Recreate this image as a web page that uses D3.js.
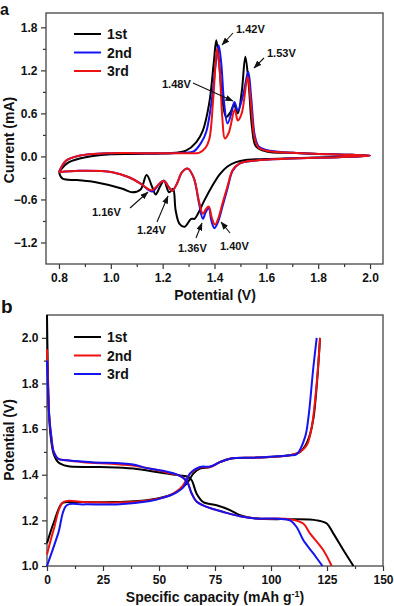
<!DOCTYPE html>
<html>
<head>
<meta charset="utf-8">
<script src="https://cdn.jsdelivr.net/npm/d3@7"></script>
<style>
  html, body { margin: 0; padding: 0; background: #fff; }
  svg text { font-family: "Liberation Sans", Arial, sans-serif; font-weight: bold; fill: #111; }
</style>
</head>
<body>
<div class="box"></div>
<script>
// ---- panel a : cyclic voltammetry, [potential V, current mA] ----
const cvNames = ["1st", "2nd", "3rd"]
const cvColors = ["#000000", "#1414f0", "#ee1111"]

const cv1st = [[0.8,-0.22],[0.83,-0.1],[0.88,-0.03],[1.0,0.03],[1.1,0.035],[1.2,0.04],[1.25,0.05],[1.29,0.08],[1.33,0.2],[1.355,0.36],[1.38,0.75],[1.397,1.3],[1.407,1.62],[1.418,1.3],[1.43,0.8],[1.445,0.55],[1.462,0.62],[1.475,0.72],[1.49,0.6],[1.505,0.9],[1.519,1.39],[1.532,1.0],[1.545,0.4],[1.56,0.14],[1.6,0.07],[1.7,0.05],[1.8,0.035],[1.9,0.025],[2.0,0.01],
  [1.9,-0.005],[1.8,-0.015],[1.7,-0.025],[1.6,-0.035],[1.52,-0.05],[1.483,-0.08],[1.45,-0.14],[1.42,-0.25],[1.39,-0.42],[1.36,-0.62],[1.336,-0.8],[1.323,-0.87],[1.31,-0.87],[1.285,-0.98],[1.265,-0.94],[1.25,-0.75],[1.24,-0.45],[1.225,-0.5],[1.205,-0.34],[1.19,-0.42],[1.173,-0.53],[1.16,-0.43],[1.138,-0.26],[1.115,-0.46],[1.083,-0.5],[1.045,-0.45],[0.942,-0.36],[0.87,-0.33],[0.814,-0.31],[0.8,-0.22]]

const cv2nd = [[0.8,-0.22],[0.827,-0.06],[0.878,0.01],[1.0,0.045],[1.1,0.045],[1.2,0.045],[1.28,0.05],[1.32,0.07],[1.35,0.2],[1.368,0.34],[1.39,0.8],[1.405,1.3],[1.416,1.55],[1.426,1.3],[1.437,0.75],[1.45,0.46],[1.465,0.6],[1.477,0.76],[1.49,0.64],[1.51,0.85],[1.53,1.18],[1.542,0.8],[1.555,0.3],[1.57,0.14],[1.6,0.09],[1.7,0.05],[1.8,0.035],[1.9,0.025],[2.0,0.01],
  [1.88,-0.01],[1.69,-0.03],[1.56,-0.056],[1.496,-0.1],[1.47,-0.2],[1.45,-0.45],[1.432,-0.68],[1.415,-0.9],[1.40,-1.0],[1.388,-0.9],[1.378,-0.72],[1.366,-0.78],[1.355,-0.87],[1.34,-0.65],[1.32,-0.3],[1.297,-0.17],[1.275,-0.22],[1.255,-0.38],[1.237,-0.48],[1.224,-0.43],[1.205,-0.34],[1.19,-0.37],[1.16,-0.49],[1.147,-0.47],[1.115,-0.38],[1.07,-0.29],[1.006,-0.22],[0.878,-0.2],[0.8,-0.22]]

const cv3rd = [[0.8,-0.22],[0.827,-0.06],[0.878,0.01],[1.0,0.045],[1.1,0.045],[1.2,0.045],[1.3,0.045],[1.34,0.05],[1.365,0.12],[1.38,0.24],[1.395,0.8],[1.41,1.5],[1.42,1.2],[1.43,0.55],[1.44,0.25],[1.455,0.33],[1.478,0.65],[1.49,0.5],[1.505,0.6],[1.528,1.11],[1.54,0.75],[1.555,0.25],[1.57,0.12],[1.6,0.08],[1.7,0.05],[1.8,0.035],[1.9,0.025],[2.0,0.01],
  [1.88,-0.01],[1.69,-0.03],[1.56,-0.056],[1.496,-0.1],[1.47,-0.19],[1.45,-0.42],[1.432,-0.64],[1.415,-0.86],[1.402,-0.95],[1.39,-0.86],[1.378,-0.7],[1.366,-0.74],[1.355,-0.8],[1.34,-0.62],[1.32,-0.3],[1.297,-0.17],[1.275,-0.22],[1.255,-0.38],[1.237,-0.48],[1.224,-0.43],[1.205,-0.34],[1.19,-0.37],[1.16,-0.47],[1.147,-0.46],[1.115,-0.38],[1.07,-0.29],[1.006,-0.22],[0.878,-0.2],[0.8,-0.22]]

const cvXTicks = [0.8, 1.0, 1.2, 1.4, 1.6, 1.8, 2.0]
const cvYTicks = [-1.2, -0.6, 0.0, 0.6, 1.2, 1.8]
const cvPeaks = [
  {label: "1.42V", tx: 236, ty: 33, ax: 233, ay: 33, bx: 222, by: 45},
  {label: "1.53V", tx: 267, ty: 57, ax: 264, ay: 58, bx: 254, by: 68},
  {label: "1.48V", tx: 162, ty: 88, ax: 193, ay: 83, bx: 233, by: 101},
  {label: "1.16V", tx: 92, ty: 216, ax: 130, ay: 208, bx: 148, by: 192},
  {label: "1.24V", tx: 137, ty: 234, ax: 157, ay: 222, bx: 168, by: 196},
  {label: "1.36V", tx: 178, ty: 252, ax: 196, ay: 238, bx: 202, by: 223},
  {label: "1.40V", tx: 220, ty: 250, ax: 230, ay: 233, bx: 221, by: 222}
]

// ---- panel b : charge / discharge, [capacity mAh/g, potential V] ----
const gcNames = ["1st", "2nd", "3rd"]
const gcColors = ["#000000", "#ee1111", "#1414f0"]

const gc1stDis = [[0,2.1],[0.3,1.9],[0.8,1.7],[1.5,1.58],[3,1.49],[5,1.455],[9,1.438],[23.7,1.434],[38.5,1.427],[50.4,1.41],[59.4,1.397],[63,1.39],[64.6,1.376],[66.8,1.317],[69.8,1.28],[75.7,1.266],[81.7,1.245],[86.2,1.223],[93.6,1.208],[108.5,1.205],[120.4,1.2],[124.9,1.186],[127.8,1.143],[132.3,1.07],[136.8,1.0]]
const gc1stChg = [[0,1.1],[3,1.19],[6.6,1.274],[9,1.28],[16.2,1.28],[31,1.28],[46,1.29],[56.4,1.317],[62.3,1.36],[65.3,1.405],[68.3,1.427],[72.8,1.434],[77.2,1.455],[81.7,1.47],[93.6,1.475],[108.5,1.485],[113,1.5],[115.5,1.53],[117.5,1.58],[119,1.65],[120.5,1.8],[121.9,2.0]]
const gc2ndDis = [[0,1.95],[0.5,1.78],[1,1.66],[2,1.56],[3,1.5],[5,1.47],[8.8,1.463],[16.2,1.455],[38.5,1.44],[53.4,1.41],[59.4,1.395],[62.5,1.37],[64.5,1.32],[67,1.28],[71.3,1.259],[78.7,1.237],[86.2,1.218],[93.6,1.208],[108.5,1.205],[114.4,1.186],[117.4,1.143],[123.3,1.07],[127.1,1.0]]
const gc2ndChg = [[0,1.05],[3,1.16],[7.3,1.28],[16.2,1.28],[31,1.278],[46,1.288],[52,1.3],[56.4,1.317],[60.5,1.35],[63.8,1.405],[68.3,1.432],[72.8,1.434],[77.2,1.455],[81.7,1.47],[93.6,1.475],[108.5,1.485],[113,1.5],[116,1.53],[118.2,1.61],[120.4,1.8],[121.9,2.0]]
const gc3rdDis = [[0,1.9],[0.5,1.75],[1,1.65],[2,1.56],[3,1.5],[5,1.47],[8.8,1.463],[20,1.455],[38.5,1.445],[44,1.43],[50.4,1.42],[59.4,1.395],[62.5,1.37],[64.5,1.32],[67,1.28],[71.3,1.259],[78.7,1.237],[86.2,1.218],[93.6,1.208],[101,1.208],[108.5,1.2],[111.5,1.17],[114.4,1.114],[118.9,1.055],[123,1.0]]
const gc3rdChg = [[0,1.0],[5,1.143],[8.8,1.266],[16,1.27],[31,1.27],[46,1.285],[52,1.3],[56.4,1.315],[60.9,1.346],[63.8,1.405],[68.3,1.434],[72.8,1.436],[77.2,1.455],[81.7,1.47],[93.6,1.475],[108.5,1.485],[111.5,1.49],[115.2,1.565],[116.7,1.65],[118.9,1.87],[120.4,2.0]]

const gcXTicks = [0, 25, 50, 75, 100, 125, 150]
const gcYTicks = [1.0, 1.2, 1.4, 1.6, 1.8, 2.0]

// ---- drawing ----
const W = 394, H = 606
const svg = d3.select('.box').append('svg').attr('width', W).attr('height', H)

svg.append('defs').append('marker')
   .attr('id', 'arr').attr('viewBox', '0 0 8 6')
   .attr('refX', 7.5).attr('refY', 3)
   .attr('markerWidth', 8).attr('markerHeight', 6)
   .attr('markerUnits', 'userSpaceOnUse')
   .attr('orient', 'auto')
   .append('path').attr('d', 'M0,0 L8,3 L0,6 Z').attr('fill', '#111')

function frame(x, y, xTicks, yTicks, xMinor, yMinor, xFmt, yFmt) {
    const g = svg.append('g')
    const [x0, x1] = x.range(), [y0, y1] = y.range()

    const xAxis = g.append('g').attr('transform', `translate(0,${y0})`)
        .call(d3.axisBottom(x).tickValues(xTicks).tickFormat(xFmt).tickSize(5).tickSizeOuter(0))
    g.append('g').attr('transform', `translate(0,${y0})`)
        .call(d3.axisBottom(x).tickValues(xMinor).tickFormat('').tickSize(3).tickSizeOuter(0))
    const yAxis = g.append('g').attr('transform', `translate(${x0},0)`)
        .call(d3.axisLeft(y).tickValues(yTicks).tickFormat(yFmt).tickSize(5).tickSizeOuter(0))
    g.append('g').attr('transform', `translate(${x0},0)`)
        .call(d3.axisLeft(y).tickValues(yMinor).tickFormat('').tickSize(3).tickSizeOuter(0))

    g.selectAll('.domain').remove()
    g.selectAll('.tick line').attr('stroke', '#333').attr('stroke-width', 1.2)
    xAxis.selectAll('text').attr('font-size', 12).attr('dy', '0.85em').attr('fill', '#111')
    yAxis.selectAll('text').attr('font-size', 12).attr('dx', '-0.05em').attr('fill', '#111')

    g.append('rect').attr('x', x0).attr('y', y1).attr('width', x1 - x0).attr('height', y0 - y1)
     .attr('fill', 'none').attr('stroke', '#444').attr('stroke-width', 1.3)
}

function legend(x0, y0, names, colors) {
    names.forEach((n, i) => {
        svg.append('line').attr('x1', x0).attr('x2', x0 + 27)
           .attr('y1', y0 + i * 18.5).attr('y2', y0 + i * 18.5)
           .attr('stroke', colors[i]).attr('stroke-width', 2)
        svg.append('text').attr('x', x0 + 33).attr('y', y0 + i * 18.5 + 5)
           .attr('font-size', 14).text(n)
    })
}

// panel a
const xa = d3.scaleLinear().domain([0.75, 2.05]).range([46, 383])
const ya = d3.scaleLinear().domain([-1.5, 2.0]).range([264, 13])
const lineA = d3.line().x(d => xa(d[0])).y(d => ya(d[1])).curve(d3.curveCatmullRom.alpha(0.5))

frame(xa, ya, cvXTicks, cvYTicks,
      [0.9, 1.1, 1.3, 1.5, 1.7, 1.9], [-0.9, -0.3, 0.3, 0.9, 1.5],
      d3.format('.1f'), d3.format('.1f'))

;[cv1st, cv2nd, cv3rd].forEach((s, i) => {
    svg.append('path').datum(s).attr('d', lineA)
       .attr('fill', 'none').attr('stroke', cvColors[i]).attr('stroke-width', 2)
       .attr('stroke-linejoin', 'round')
})

cvPeaks.forEach(p => {
    svg.append('line').attr('x1', p.ax).attr('y1', p.ay).attr('x2', p.bx).attr('y2', p.by)
       .attr('stroke', '#111').attr('stroke-width', 1.1).attr('marker-end', 'url(#arr)')
    svg.append('text').attr('x', p.tx).attr('y', p.ty).attr('font-size', 11).text(p.label)
})

legend(74, 34, cvNames, cvColors)

svg.append('text').attr('transform', 'translate(14,140) rotate(-90)')
   .attr('text-anchor', 'middle').attr('font-size', 14).text('Current (mA)')
svg.append('text').attr('x', 215).attr('y', 300)
   .attr('text-anchor', 'middle').attr('font-size', 14).text('Potential (V)')
svg.append('text').attr('x', 0).attr('y', 15).attr('font-size', 16).text('a')

// panel b
const xb = d3.scaleLinear().domain([0, 150]).range([47, 383])
const yb = d3.scaleLinear().domain([1.0, 2.1]).range([566, 315])
const lineB = d3.line().x(d => xb(d[0])).y(d => yb(d[1])).curve(d3.curveCatmullRom.alpha(0.5))

frame(xb, yb, gcXTicks, gcYTicks,
      [12.5, 37.5, 62.5, 87.5, 112.5, 137.5], [1.1, 1.3, 1.5, 1.7, 1.9],
      d3.format('d'), d3.format('.1f'))

const gcSeries = [[gc1stDis, gc1stChg], [gc2ndDis, gc2ndChg], [gc3rdDis, gc3rdChg]]
gcSeries.forEach((pair, i) => {
    pair.forEach(s => {
        svg.append('path').datum(s).attr('d', lineB)
           .attr('fill', 'none').attr('stroke', gcColors[i]).attr('stroke-width', 2)
    })
})

legend(74, 337, gcNames, gcColors)

svg.append('text').attr('transform', 'translate(14,440) rotate(-90)')
   .attr('text-anchor', 'middle').attr('font-size', 14).text('Potential (V)')
const xt = svg.append('text').attr('x', 215).attr('y', 602)
   .attr('text-anchor', 'middle').attr('font-size', 14)
xt.append('tspan').text('Specific capacity (mAh g')
xt.append('tspan').attr('font-size', 9).attr('dy', -5).text('-1')
xt.append('tspan').attr('dy', 5).text(')')
svg.append('text').attr('x', 1).attr('y', 313).attr('font-size', 19).text('b')
</script>
</body>
</html>
